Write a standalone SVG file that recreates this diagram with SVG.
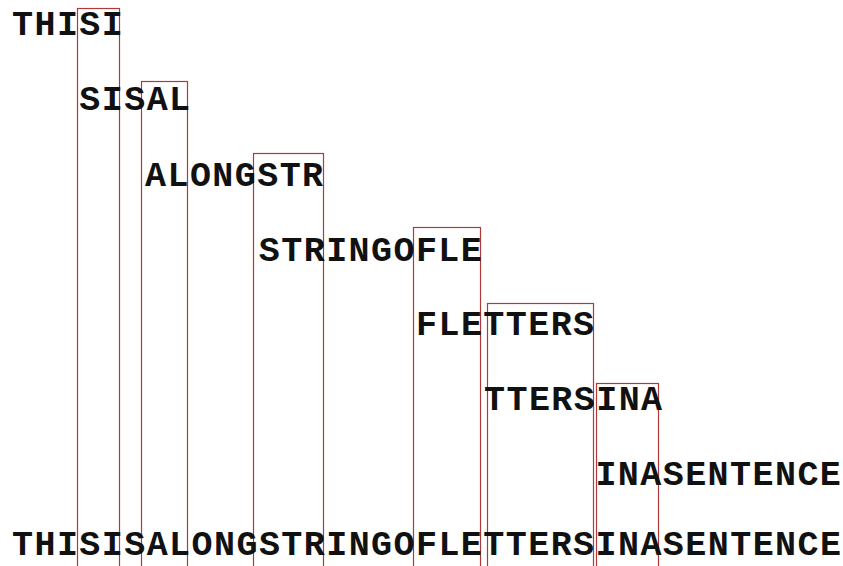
<svg xmlns="http://www.w3.org/2000/svg" width="843" height="566" viewBox="0 0 843 566">
<style>
.t{font-family:"Liberation Mono","Courier New",monospace;font-weight:bold;font-size:35px;letter-spacing:1.44px;fill:#111}
.r{fill:none;stroke:#b03a3a;stroke-width:1.2}
</style>
<rect width="843" height="566" fill="#fff"/>
<g id="boxes">
<rect class="r" x="77.5" y="8.5" width="42" height="570"/>
<rect class="r" x="141.5" y="81.5" width="46" height="500"/>
<rect class="r" x="253.5" y="153.5" width="70" height="430"/>
<rect class="r" x="413.5" y="227.5" width="67" height="350"/>
<rect class="r" x="487.5" y="303.5" width="106" height="280"/>
<rect class="r" x="596.5" y="383.5" width="62" height="200"/>
</g>
<g id="row1"><text class="t" x="12" y="35">THISI</text></g>
<g id="row2"><text class="t" x="79.3" y="110">SISAL</text></g>
<g id="row3"><text class="t" x="145" y="186">ALONGSTR</text></g>
<g id="row4"><text class="t" x="258.8" y="261">STRINGOFLE</text></g>
<g id="row5"><text class="t" x="416" y="335">FLETTERS</text></g>
<g id="row6"><text class="t" x="484" y="410">TTERSINA</text></g>
<g id="row7"><text class="t" x="595.4" y="485">INASENTENCE</text></g>
<g id="row8"><text class="t" x="12" y="555">THISISALONGSTRINGOFLETTERSINASENTENCE</text></g>
</svg>
